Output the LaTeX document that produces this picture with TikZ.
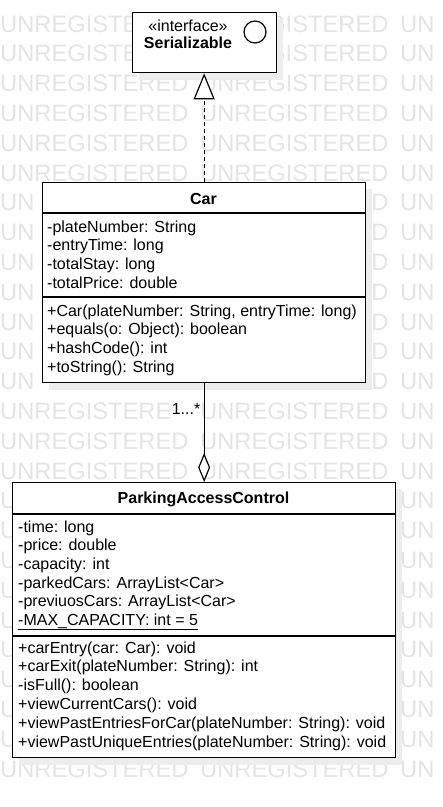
\documentclass[tikz,border=0pt]{standalone}
\usepackage{fontspec}
\setmainfont{Liberation Sans}
\usetikzlibrary{arrows.meta}
\definecolor{wm}{HTML}{E4E4E4}
\definecolor{shd}{HTML}{EDEDED}
\newcommand{\wmfrag}[4]{\node[wmtext] (wm-#1-#2) at (#3,{32+29.8*#1}) {#4};}
\begin{document}
\begin{tikzpicture}[x=1pt,y=-1pt,
  font=\fontsize{16}{19}\selectfont,
  umlbox/.style={draw=black, line width=1.3pt, fill=white, inner sep=0pt, anchor=north west},
  sepline/.style={line width=1.3pt},
  txt/.style={anchor=base west, inner sep=0pt},
  hdr/.style={anchor=base, inner sep=0pt, font=\fontsize{16}{19}\selectfont\bfseries},
  wmtext/.style={anchor=base west, inner sep=0pt, text=wm, font=\fontsize{23.7}{24}\selectfont},
  conn/.style={line width=1.2pt, draw=black}]

\useasboundingbox (0,0) rectangle (443,807);
\fill[white] (0,0) rectangle (443,807);

% watermark (only the parts left visible)
\foreach \r in {0,1} {
  \wmfrag{\r}{a}{0}{UNREGISTE}
  \wmfrag{\r}{b}{267.1}{GISTERED}
  \wmfrag{\r}{c}{400}{UN}
}
\foreach \r in {2,3,4,5,14,15,25} {
  \wmfrag{\r}{a}{0}{UNREGISTERED}
  \wmfrag{\r}{b}{200}{UNREGISTERED}
  \wmfrag{\r}{c}{400}{UN}
}
\foreach \r in {6,7,8,9,11} {
  \wmfrag{\r}{a}{0}{UN}
  \wmfrag{\r}{b}{355.4}{ED}
  \wmfrag{\r}{c}{400}{UN}
}
\wmfrag{10}{a}{0}{UN}
\wmfrag{10}{b}{371.2}{D}
\wmfrag{10}{c}{400}{UN}
\wmfrag{12}{a}{0}{UN}
\wmfrag{12}{b}{200}{UNREGISTERED}
\wmfrag{12}{c}{400}{UN}
\wmfrag{13}{a}{0}{UNREGISTERE}
\wmfrag{13}{b}{200}{UNREGISTERED}
\wmfrag{13}{c}{400}{UN}
\foreach \r in {16,...,24} {
  \wmfrag{\r}{a}{0}{U}
  \wmfrag{\r}{c}{400}{UN}
}

% shadows
\fill[shd] (139,19) rectangle (283,80);
\fill[shd] (49,189) rectangle (372,390);
\fill[shd] (19,489) rectangle (402,765);

% Serializable
\node[umlbox, minimum width=144pt, minimum height=60pt] (ser) at (132,12) {};
\node[anchor=base, inner sep=0pt] (serst) at (188,31) {«interface»};
\node[hdr] (sername) at (188,48) {Serializable};
\draw[line width=1.2pt] (255,32) circle (11pt);

% Car
\node[umlbox, minimum width=323pt, minimum height=200pt] (car) at (42,182) {};
\node[hdr] (carname) at (203.5,204) {Car};
\draw[sepline] (42,213) -- (365,213);
\draw[sepline] (42,297) -- (365,297);
\node[txt] (ca1) at (47,232) {-plateNumber: String};
\node[txt] (ca2) at (47,250.7) {-entryTime: long};
\node[txt] (ca3) at (47,269.4) {-totalStay: long};
\node[txt] (ca4) at (47,288.1) {-totalPrice: double};
\node[txt] (cm1) at (47,316) {+Car(plateNumber: String, entryTime: long)};
\node[txt] (cm2) at (47,334.7) {+equals(o: Object): boolean};
\node[txt] (cm3) at (47,353.4) {+hashCode(): int};
\node[txt] (cm4) at (47,372.1) {+toString(): String};

% ParkingAccessControl
\node[umlbox, minimum width=383pt, minimum height=275pt] (pac) at (12,482) {};
\node[hdr] (pacname) at (203.5,503.5) {ParkingAccessControl};
\draw[sepline] (12,514) -- (395,514);
\draw[sepline] (12,636) -- (395,636);
\node[txt] (pa1) at (18,532) {-time: long};
\node[txt] (pa2) at (18,550.7) {-price: double};
\node[txt] (pa3) at (18,569.4) {-capacity: int};
\node[txt] (pa4) at (18,588.1) {-parkedCars: ArrayList<Car>};
\node[txt] (pa5) at (18,606.8) {-previuosCars: ArrayList<Car>};
\node[txt] (maxcap) at (18,625.5) {-MAX\_CAPACITY: int = 5};
\draw[line width=0.9pt] ([yshift=-3.6pt]maxcap.base west) -- ([yshift=-3.6pt]maxcap.base east);
\node[txt] (pm1) at (18,653) {+carEntry(car: Car): void};
\node[txt] (pm2) at (18,671.8) {+carExit(plateNumber: String): int};
\node[txt] (pm3) at (18,690.6) {-isFull(): boolean};
\node[txt] (pm4) at (18,709.4) {+viewCurrentCars(): void};
\node[txt] (pm5) at (18,728.2) {+viewPastEntriesForCar(plateNumber: String): void};
\node[txt] (pm6) at (18,747) {+viewPastUniqueEntries(plateNumber: String): void};

% realization
\draw[conn, dash pattern=on 4pt off 3pt, -{Triangle[open, length=26pt, width=21pt, fill=white]}] (car.north) -- (car.north |- ser.south);

% aggregation
\draw[conn, -{Diamond[open, length=29pt, width=12pt, fill=white]}] (car.south) -- (pac.north);
\node[anchor=base east, inner sep=0pt] (mult) at (200.5,414) {1...*};
\end{tikzpicture}
\end{document}
